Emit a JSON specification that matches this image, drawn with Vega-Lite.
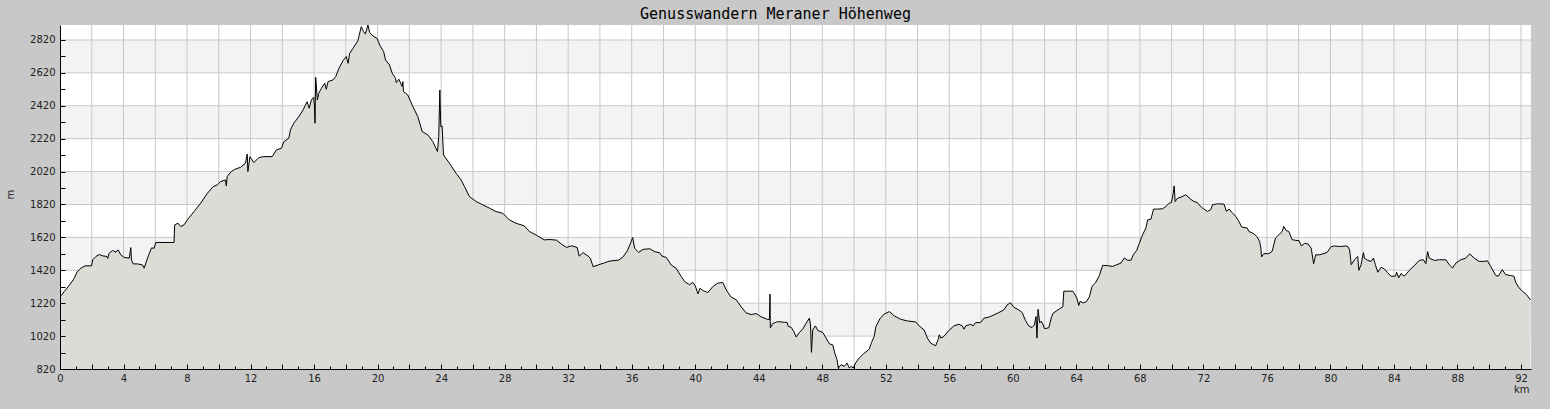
{
  "$schema": "https://vega.github.io/schema/vega-lite/v6.json",
  "autosize": "none",
  "padding": {"left": 60, "top": 25, "right": 19, "bottom": 40},
  "width": 1471,
  "height": 344,
  "background": "#c8c8c8",
  "title": {
    "text": "Genusswandern Meraner Höhenweg",
    "font": "DejaVu Sans Mono",
    "fontSize": 15,
    "fontWeight": "normal",
    "color": "#000000",
    "anchor": "middle",
    "dx": -20,
    "dy": 15,
    "baseline": "alphabetic",
    "offset": 6
  },
  "config": {
    "view": {"fill": "#ffffff", "stroke": null},
    "axis": {
      "labelFont": "DejaVu Sans",
      "labelFontSize": 10,
      "labelColor": "#222222",
      "titleFont": "DejaVu Sans",
      "titleFontSize": 10,
      "titleFontWeight": "normal",
      "titleColor": "#222222",
      "domainColor": "#000000",
      "domainWidth": 1,
      "tickColor": "#000000",
      "tickWidth": 1,
      "grid": false
    }
  },
  "layer": [
    {
      "data": {"values": [
        {"m": 1020, "m2": 1220}, {"m": 1420, "m2": 1620}, {"m": 1820, "m2": 2020},
        {"m": 2220, "m2": 2420}, {"m": 2620, "m2": 2820}
      ]},
      "mark": {"type": "rect", "fill": "#f3f2f5"},
      "encoding": {
        "y": {
          "field": "m", "type": "quantitative",
          "scale": {"domain": [820, 2911], "nice": false, "zero": false},
          "axis": {
            "title": "m",
            "values": [820,920,1020,1120,1220,1320,1420,1520,1620,1720,1820,1920,2020,2120,2220,2320,2420,2520,2620,2720,2820],
            "labelExpr": "(datum.value - 820) % 200 === 0 ? datum.label : ''",
            "format": "d", "labelOverlap": false, "labelBound": false, "labelFlush": false,
            "domain": true, "ticks": true, "tickSize": -5, "labelPadding": 10,
            "titleAngle": 270, "titleAlign": "center", "titleBaseline": "middle",
            "titleX": -50, "titleY": 169, "zindex": 1
          }
        },
        "y2": {"field": "m2"}
      }
    },
    {
      "data": {"values": [
        {"km": 2}, {"km": 4}, {"km": 6}, {"km": 8}, {"km": 10}, {"km": 12}, {"km": 14}, {"km": 16},
        {"km": 18}, {"km": 20}, {"km": 22}, {"km": 24}, {"km": 26}, {"km": 28}, {"km": 30}, {"km": 32},
        {"km": 34}, {"km": 36}, {"km": 38}, {"km": 40}, {"km": 42}, {"km": 44}, {"km": 46}, {"km": 48},
        {"km": 50}, {"km": 52}, {"km": 54}, {"km": 56}, {"km": 58}, {"km": 60}, {"km": 62}, {"km": 64},
        {"km": 66}, {"km": 68}, {"km": 70}, {"km": 72}, {"km": 74}, {"km": 76}, {"km": 78}, {"km": 80},
        {"km": 82}, {"km": 84}, {"km": 86}, {"km": 88}, {"km": 90}, {"km": 92}
      ]},
      "mark": {"type": "rule", "color": "#c8c8c8", "strokeWidth": 1},
      "encoding": {
        "x": {
          "field": "km", "type": "quantitative",
          "scale": {"domain": [0, 92.63], "nice": false, "zero": false},
          "axis": {
            "title": "km",
            "values": [0,1,2,3,4,5,6,7,8,9,10,11,12,13,14,15,16,17,18,19,20,21,22,23,24,25,26,27,28,29,30,31,32,33,34,35,36,37,38,39,40,41,42,43,44,45,46,47,48,49,50,51,52,53,54,55,56,57,58,59,60,61,62,63,64,65,66,67,68,69,70,71,72,73,74,75,76,77,78,79,80,81,82,83,84,85,86,87,88,89,90,91,92],
            "labelExpr": "datum.value % 4 === 0 ? datum.label : ''",
            "format": "d", "labelOverlap": false, "labelBound": false, "labelFlush": false,
            "domain": true, "ticks": true,
            "tickSize": {"condition": {"test": "datum.value % 2 === 0", "value": -5}, "value": -3},
            "labelPadding": 9,
            "titleAnchor": "end", "titleAlign": "right", "titleBaseline": "alphabetic",
            "titleX": 1469, "titleY": 23, "zindex": 1
          }
        }
      }
    },
    {
      "data": {"values": [
        {"m": 1020}, {"m": 1220}, {"m": 1420}, {"m": 1620}, {"m": 1820}, {"m": 2020},
        {"m": 2220}, {"m": 2420}, {"m": 2620}, {"m": 2820}
      ]},
      "mark": {"type": "rule", "color": "#c8c8c8", "strokeWidth": 1},
      "encoding": {
        "y": {
          "field": "m", "type": "quantitative",
          "scale": {"domain": [820, 2911], "nice": false, "zero": false},
          "axis": {
            "title": "m",
            "values": [820,920,1020,1120,1220,1320,1420,1520,1620,1720,1820,1920,2020,2120,2220,2320,2420,2520,2620,2720,2820],
            "labelExpr": "(datum.value - 820) % 200 === 0 ? datum.label : ''",
            "format": "d", "labelOverlap": false, "labelBound": false, "labelFlush": false,
            "domain": true, "ticks": true, "tickSize": -5, "labelPadding": 10,
            "titleAngle": 270, "titleAlign": "center", "titleBaseline": "middle",
            "titleX": -50, "titleY": 169, "zindex": 1
          }
        }
      }
    },
    {
      "data": {"values": [
        {"km": 0, "m": 1258}, {"km": 0.27, "m": 1291}, {"km": 0.69, "m": 1342}, {"km": 0.9, "m": 1372},
        {"km": 1.07, "m": 1409}, {"km": 1.32, "m": 1433}, {"km": 1.57, "m": 1447}, {"km": 1.99, "m": 1447},
        {"km": 2.05, "m": 1483}, {"km": 2.26, "m": 1504}, {"km": 2.47, "m": 1516}, {"km": 2.68, "m": 1508},
        {"km": 2.95, "m": 1504}, {"km": 3.0, "m": 1492}, {"km": 3.1, "m": 1524}, {"km": 3.31, "m": 1540},
        {"km": 3.52, "m": 1530}, {"km": 3.66, "m": 1544}, {"km": 3.83, "m": 1514}, {"km": 4.04, "m": 1498},
        {"km": 4.36, "m": 1494}, {"km": 4.46, "m": 1558}, {"km": 4.5, "m": 1483}, {"km": 4.61, "m": 1459},
        {"km": 4.88, "m": 1459}, {"km": 5.19, "m": 1453}, {"km": 5.3, "m": 1433}, {"km": 5.51, "m": 1494},
        {"km": 5.76, "m": 1556}, {"km": 5.93, "m": 1554}, {"km": 6.03, "m": 1589}, {"km": 7.18, "m": 1589},
        {"km": 7.22, "m": 1696}, {"km": 7.43, "m": 1706}, {"km": 7.6, "m": 1686}, {"km": 7.81, "m": 1696},
        {"km": 8.02, "m": 1727}, {"km": 8.44, "m": 1777}, {"km": 8.86, "m": 1828}, {"km": 9.28, "m": 1888},
        {"km": 9.65, "m": 1929}, {"km": 9.9, "m": 1939}, {"km": 10.11, "m": 1959}, {"km": 10.42, "m": 1969},
        {"km": 10.47, "m": 1933}, {"km": 10.53, "m": 1990}, {"km": 10.78, "m": 2020}, {"km": 11.06, "m": 2036},
        {"km": 11.37, "m": 2046}, {"km": 11.68, "m": 2071}, {"km": 11.79, "m": 2127}, {"km": 11.83, "m": 2020},
        {"km": 11.96, "m": 2111}, {"km": 12.21, "m": 2075}, {"km": 12.52, "m": 2105}, {"km": 12.84, "m": 2111},
        {"km": 13.36, "m": 2111}, {"km": 13.63, "m": 2152}, {"km": 13.95, "m": 2162}, {"km": 14.09, "m": 2202},
        {"km": 14.41, "m": 2223}, {"km": 14.51, "m": 2273}, {"km": 14.72, "m": 2314}, {"km": 15.04, "m": 2354},
        {"km": 15.31, "m": 2395}, {"km": 15.56, "m": 2445}, {"km": 15.69, "m": 2405}, {"km": 15.83, "m": 2455},
        {"km": 15.98, "m": 2472}, {"km": 16.02, "m": 2419}, {"km": 16.06, "m": 2314}, {"km": 16.1, "m": 2593},
        {"km": 16.21, "m": 2455}, {"km": 16.29, "m": 2496}, {"km": 16.46, "m": 2526}, {"km": 16.67, "m": 2557},
        {"km": 16.77, "m": 2520}, {"km": 16.88, "m": 2567}, {"km": 17.19, "m": 2577}, {"km": 17.36, "m": 2597},
        {"km": 17.57, "m": 2648}, {"km": 17.82, "m": 2694}, {"km": 18.03, "m": 2719}, {"km": 18.14, "m": 2678},
        {"km": 18.24, "m": 2739}, {"km": 18.45, "m": 2769}, {"km": 18.76, "m": 2816}, {"km": 18.97, "m": 2901},
        {"km": 19.12, "m": 2871}, {"km": 19.23, "m": 2856}, {"km": 19.39, "m": 2911}, {"km": 19.5, "m": 2865},
        {"km": 19.71, "m": 2844}, {"km": 19.96, "m": 2830}, {"km": 20.13, "m": 2790}, {"km": 20.38, "m": 2749},
        {"km": 20.5, "m": 2698}, {"km": 20.75, "m": 2668}, {"km": 20.92, "m": 2618}, {"km": 21.13, "m": 2587},
        {"km": 21.17, "m": 2561}, {"km": 21.34, "m": 2581}, {"km": 21.55, "m": 2537}, {"km": 21.59, "m": 2567},
        {"km": 21.63, "m": 2506}, {"km": 21.9, "m": 2486}, {"km": 22.22, "m": 2415}, {"km": 22.53, "m": 2354},
        {"km": 22.81, "m": 2263}, {"km": 23.16, "m": 2243}, {"km": 23.48, "m": 2202}, {"km": 23.77, "m": 2142},
        {"km": 23.85, "m": 2233}, {"km": 23.92, "m": 2516}, {"km": 23.98, "m": 2293}, {"km": 24.06, "m": 2297},
        {"km": 24.15, "m": 2121}, {"km": 24.52, "m": 2071}, {"km": 24.94, "m": 2010}, {"km": 25.26, "m": 1969},
        {"km": 25.47, "m": 1929}, {"km": 25.78, "m": 1868}, {"km": 26.2, "m": 1838}, {"km": 26.62, "m": 1818},
        {"km": 27.04, "m": 1798}, {"km": 27.46, "m": 1777}, {"km": 27.88, "m": 1767}, {"km": 28.29, "m": 1727},
        {"km": 28.71, "m": 1706}, {"km": 29.24, "m": 1690}, {"km": 29.55, "m": 1656}, {"km": 29.97, "m": 1635},
        {"km": 30.49, "m": 1605}, {"km": 30.85, "m": 1607}, {"km": 31.27, "m": 1603}, {"km": 31.58, "m": 1579},
        {"km": 31.9, "m": 1559}, {"km": 32.21, "m": 1569}, {"km": 32.57, "m": 1559}, {"km": 32.69, "m": 1506},
        {"km": 32.94, "m": 1527}, {"km": 33.26, "m": 1506}, {"km": 33.4, "m": 1492}, {"km": 33.57, "m": 1442},
        {"km": 33.88, "m": 1452}, {"km": 34.3, "m": 1466}, {"km": 34.62, "m": 1476}, {"km": 35.18, "m": 1482},
        {"km": 35.46, "m": 1502}, {"km": 35.73, "m": 1539}, {"km": 35.94, "m": 1587}, {"km": 36.06, "m": 1619},
        {"km": 36.19, "m": 1553}, {"km": 36.44, "m": 1529}, {"km": 36.71, "m": 1547}, {"km": 37.13, "m": 1551},
        {"km": 37.45, "m": 1533}, {"km": 37.76, "m": 1527}, {"km": 37.91, "m": 1506}, {"km": 38.18, "m": 1498},
        {"km": 38.49, "m": 1452}, {"km": 38.8, "m": 1432}, {"km": 39.12, "m": 1382}, {"km": 39.33, "m": 1352},
        {"km": 39.64, "m": 1332}, {"km": 39.85, "m": 1346}, {"km": 40.0, "m": 1326}, {"km": 40.17, "m": 1277},
        {"km": 40.31, "m": 1311}, {"km": 40.48, "m": 1297}, {"km": 40.8, "m": 1285}, {"km": 41.11, "m": 1321},
        {"km": 41.42, "m": 1342}, {"km": 41.74, "m": 1346}, {"km": 41.95, "m": 1301}, {"km": 42.26, "m": 1257},
        {"km": 42.58, "m": 1241}, {"km": 42.9, "m": 1197}, {"km": 43.21, "m": 1161}, {"km": 43.52, "m": 1151},
        {"km": 43.84, "m": 1157}, {"km": 44.15, "m": 1137}, {"km": 44.57, "m": 1121}, {"km": 44.67, "m": 1121},
        {"km": 44.71, "m": 1275}, {"km": 44.73, "m": 1070}, {"km": 44.88, "m": 1096}, {"km": 45.19, "m": 1108},
        {"km": 45.61, "m": 1104}, {"km": 45.79, "m": 1102}, {"km": 45.87, "m": 1078}, {"km": 46.04, "m": 1074},
        {"km": 46.21, "m": 1048}, {"km": 46.36, "m": 1014}, {"km": 46.56, "m": 1042}, {"km": 46.77, "m": 1062},
        {"km": 46.98, "m": 1098}, {"km": 47.19, "m": 1129}, {"km": 47.26, "m": 1088}, {"km": 47.32, "m": 921},
        {"km": 47.4, "m": 1058}, {"km": 47.57, "m": 1082}, {"km": 47.72, "m": 1054}, {"km": 48.03, "m": 1042},
        {"km": 48.24, "m": 1008}, {"km": 48.45, "m": 973}, {"km": 48.66, "m": 967}, {"km": 48.8, "m": 913},
        {"km": 48.93, "m": 877}, {"km": 49.01, "m": 826}, {"km": 49.18, "m": 846}, {"km": 49.39, "m": 836},
        {"km": 49.56, "m": 856}, {"km": 49.7, "m": 826}, {"km": 49.81, "m": 836}, {"km": 49.95, "m": 826},
        {"km": 50.12, "m": 860}, {"km": 50.33, "m": 887}, {"km": 50.6, "m": 913}, {"km": 50.96, "m": 941},
        {"km": 51.1, "m": 981}, {"km": 51.27, "m": 1018}, {"km": 51.38, "m": 1078}, {"km": 51.65, "m": 1129},
        {"km": 51.9, "m": 1153}, {"km": 52.23, "m": 1169}, {"km": 52.53, "m": 1143}, {"km": 52.95, "m": 1122},
        {"km": 53.36, "m": 1112}, {"km": 53.89, "m": 1106}, {"km": 54.1, "m": 1082}, {"km": 54.41, "m": 1058},
        {"km": 54.62, "m": 1008}, {"km": 54.83, "m": 977}, {"km": 55.14, "m": 961}, {"km": 55.29, "m": 997},
        {"km": 55.37, "m": 1028}, {"km": 55.46, "m": 1008}, {"km": 55.66, "m": 1018}, {"km": 55.97, "m": 1054},
        {"km": 56.29, "m": 1082}, {"km": 56.61, "m": 1092}, {"km": 56.82, "m": 1082}, {"km": 56.92, "m": 1062},
        {"km": 57.03, "m": 1082}, {"km": 57.34, "m": 1092}, {"km": 57.51, "m": 1082}, {"km": 57.66, "m": 1102},
        {"km": 57.97, "m": 1102}, {"km": 58.18, "m": 1129}, {"km": 58.49, "m": 1135}, {"km": 58.81, "m": 1149},
        {"km": 59.12, "m": 1163}, {"km": 59.43, "m": 1179}, {"km": 59.64, "m": 1209}, {"km": 59.85, "m": 1223},
        {"km": 60.06, "m": 1195}, {"km": 60.38, "m": 1179}, {"km": 60.59, "m": 1163}, {"km": 60.8, "m": 1114},
        {"km": 61.0, "m": 1082}, {"km": 61.21, "m": 1072}, {"km": 61.36, "m": 1088}, {"km": 61.46, "m": 1139},
        {"km": 61.52, "m": 1008}, {"km": 61.59, "m": 1183}, {"km": 61.69, "m": 1100}, {"km": 61.79, "m": 1111},
        {"km": 61.9, "m": 1091}, {"km": 62.0, "m": 1065}, {"km": 62.27, "m": 1071}, {"km": 62.42, "m": 1131},
        {"km": 62.52, "m": 1157}, {"km": 62.73, "m": 1172}, {"km": 62.94, "m": 1186}, {"km": 63.15, "m": 1198},
        {"km": 63.21, "m": 1293}, {"km": 63.78, "m": 1293}, {"km": 64.03, "m": 1252}, {"km": 64.15, "m": 1206},
        {"km": 64.24, "m": 1232}, {"km": 64.41, "m": 1222}, {"km": 64.62, "m": 1228}, {"km": 64.82, "m": 1258},
        {"km": 64.99, "m": 1323}, {"km": 65.2, "m": 1343}, {"km": 65.45, "m": 1388}, {"km": 65.66, "m": 1450},
        {"km": 65.97, "m": 1448}, {"km": 66.29, "m": 1444}, {"km": 66.5, "m": 1452}, {"km": 66.81, "m": 1464},
        {"km": 67.02, "m": 1495}, {"km": 67.23, "m": 1481}, {"km": 67.44, "m": 1481}, {"km": 67.59, "m": 1515},
        {"km": 67.8, "m": 1541}, {"km": 67.96, "m": 1582}, {"km": 68.17, "m": 1636}, {"km": 68.38, "m": 1677},
        {"km": 68.49, "m": 1727}, {"km": 68.7, "m": 1731}, {"km": 68.86, "m": 1792}, {"km": 69.11, "m": 1792},
        {"km": 69.43, "m": 1794}, {"km": 69.64, "m": 1808}, {"km": 69.85, "m": 1828}, {"km": 69.99, "m": 1832},
        {"km": 70.1, "m": 1889}, {"km": 70.16, "m": 1933}, {"km": 70.22, "m": 1838}, {"km": 70.37, "m": 1858},
        {"km": 70.58, "m": 1864}, {"km": 70.89, "m": 1879}, {"km": 71.2, "m": 1852}, {"km": 71.41, "m": 1838},
        {"km": 71.62, "m": 1832}, {"km": 71.73, "m": 1818}, {"km": 71.94, "m": 1798}, {"km": 72.25, "m": 1778},
        {"km": 72.46, "m": 1788}, {"km": 72.57, "m": 1818}, {"km": 72.89, "m": 1824}, {"km": 73.3, "m": 1822},
        {"km": 73.45, "m": 1778}, {"km": 73.62, "m": 1792}, {"km": 73.79, "m": 1772}, {"km": 74.04, "m": 1747},
        {"km": 74.24, "m": 1717}, {"km": 74.41, "m": 1683}, {"km": 74.76, "m": 1677}, {"km": 74.87, "m": 1656},
        {"km": 75.18, "m": 1642}, {"km": 75.39, "m": 1622}, {"km": 75.54, "m": 1596}, {"km": 75.62, "m": 1555},
        {"km": 75.66, "m": 1501}, {"km": 75.81, "m": 1521}, {"km": 76.12, "m": 1521}, {"km": 76.33, "m": 1535},
        {"km": 76.54, "m": 1616}, {"km": 76.75, "m": 1636}, {"km": 76.96, "m": 1656}, {"km": 77.06, "m": 1687},
        {"km": 77.21, "m": 1662}, {"km": 77.38, "m": 1656}, {"km": 77.59, "m": 1606}, {"km": 77.8, "m": 1602},
        {"km": 78.02, "m": 1600}, {"km": 78.17, "m": 1568}, {"km": 78.38, "m": 1584}, {"km": 78.59, "m": 1580},
        {"km": 78.79, "m": 1554}, {"km": 78.94, "m": 1460}, {"km": 79.07, "m": 1514}, {"km": 79.32, "m": 1514},
        {"km": 79.53, "m": 1520}, {"km": 79.78, "m": 1528}, {"km": 80.05, "m": 1564}, {"km": 80.26, "m": 1568},
        {"km": 80.57, "m": 1564}, {"km": 80.95, "m": 1568}, {"km": 81.1, "m": 1564}, {"km": 81.21, "m": 1544},
        {"km": 81.31, "m": 1454}, {"km": 81.51, "m": 1484}, {"km": 81.72, "m": 1504}, {"km": 81.79, "m": 1420},
        {"km": 81.93, "m": 1454}, {"km": 82.08, "m": 1528}, {"km": 82.14, "m": 1494}, {"km": 82.35, "m": 1480},
        {"km": 82.56, "m": 1474}, {"km": 82.71, "m": 1494}, {"km": 82.83, "m": 1454}, {"km": 82.98, "m": 1408},
        {"km": 83.19, "m": 1438}, {"km": 83.4, "m": 1428}, {"km": 83.61, "m": 1404}, {"km": 83.82, "m": 1384},
        {"km": 84.09, "m": 1384}, {"km": 84.17, "m": 1408}, {"km": 84.3, "m": 1374}, {"km": 84.44, "m": 1400},
        {"km": 84.65, "m": 1384}, {"km": 84.97, "m": 1420}, {"km": 85.28, "m": 1448}, {"km": 85.59, "m": 1480},
        {"km": 85.85, "m": 1484}, {"km": 86.01, "m": 1460}, {"km": 86.12, "m": 1534}, {"km": 86.22, "m": 1494},
        {"km": 86.54, "m": 1480}, {"km": 86.85, "m": 1484}, {"km": 87.27, "m": 1484}, {"km": 87.48, "m": 1454},
        {"km": 87.69, "m": 1434}, {"km": 87.9, "m": 1464}, {"km": 88.21, "m": 1484}, {"km": 88.52, "m": 1494},
        {"km": 88.77, "m": 1520}, {"km": 89.05, "m": 1494}, {"km": 89.36, "m": 1474}, {"km": 89.67, "m": 1474},
        {"km": 89.88, "m": 1478}, {"km": 90.09, "m": 1444}, {"km": 90.41, "m": 1388}, {"km": 90.57, "m": 1384},
        {"km": 90.82, "m": 1424}, {"km": 91.03, "m": 1394}, {"km": 91.35, "m": 1388}, {"km": 91.56, "m": 1384},
        {"km": 91.66, "m": 1348}, {"km": 91.87, "m": 1314}, {"km": 92.08, "m": 1294}, {"km": 92.33, "m": 1274},
        {"km": 92.6, "m": 1240}
      ]},
      "mark": {"type": "area", "fill": "#dcdbd6", "opacity": 1, "fillOpacity": 1, "line": {"color": "#000000", "strokeWidth": 1}, "clip": true},
      "encoding": {
        "x": {
          "field": "km", "type": "quantitative",
          "scale": {"domain": [0, 92.63], "nice": false, "zero": false},
          "axis": {
            "title": "km",
            "values": [0,1,2,3,4,5,6,7,8,9,10,11,12,13,14,15,16,17,18,19,20,21,22,23,24,25,26,27,28,29,30,31,32,33,34,35,36,37,38,39,40,41,42,43,44,45,46,47,48,49,50,51,52,53,54,55,56,57,58,59,60,61,62,63,64,65,66,67,68,69,70,71,72,73,74,75,76,77,78,79,80,81,82,83,84,85,86,87,88,89,90,91,92],
            "labelExpr": "datum.value % 4 === 0 ? datum.label : ''",
            "format": "d", "labelOverlap": false, "labelBound": false, "labelFlush": false,
            "domain": true, "ticks": true,
            "tickSize": {"condition": {"test": "datum.value % 2 === 0", "value": -5}, "value": -3},
            "labelPadding": 9,
            "titleAnchor": "end", "titleAlign": "right", "titleBaseline": "alphabetic",
            "titleX": 1469, "titleY": 23, "zindex": 1
          }
        },
        "y": {
          "field": "m", "type": "quantitative",
          "scale": {"domain": [820, 2911], "nice": false, "zero": false},
          "axis": {
            "title": "m",
            "values": [820,920,1020,1120,1220,1320,1420,1520,1620,1720,1820,1920,2020,2120,2220,2320,2420,2520,2620,2720,2820],
            "labelExpr": "(datum.value - 820) % 200 === 0 ? datum.label : ''",
            "format": "d", "labelOverlap": false, "labelBound": false, "labelFlush": false,
            "domain": true, "ticks": true, "tickSize": -5, "labelPadding": 10,
            "titleAngle": 270, "titleAlign": "center", "titleBaseline": "middle",
            "titleX": -50, "titleY": 169, "zindex": 1
          }
        }
      }
    }
  ]
}
